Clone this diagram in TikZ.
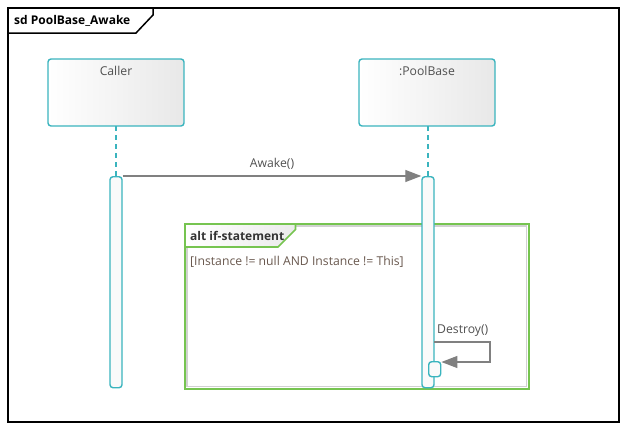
\documentclass[tikz,border=0pt]{standalone}
\usepackage{fontspec}
\setmainfont{Open Sans}
\usetikzlibrary{arrows.meta,shadings}
\definecolor{teal1}{RGB}{58,180,190}
\definecolor{altgreen}{RGB}{118,196,80}
\definecolor{msggray}{RGB}{128,128,128}
\definecolor{txtgray}{RGB}{80,80,80}
\definecolor{guardtxt}{RGB}{105,88,78}
\tikzset{
  lifebox/.style={draw=teal1, line width=1.4pt, rounded corners=3pt, left color=white, right color=black!9},
  actbar/.style={draw=teal1, line width=1.4pt, rounded corners=3pt, fill=black!2},
  lifeline/.style={draw=teal1, line width=1.4pt, dash pattern=on 5pt off 4pt},
  msg/.style={draw=msggray, line width=1.3pt, -{Triangle[length=16pt,width=12pt]}},
  lbl/.style={font=\fontsize{12.2pt}{14pt}\selectfont, text=txtgray, inner sep=0pt},
  bold/.style={font=\fontsize{12pt}{14pt}\selectfont\bfseries, inner sep=0pt},
}
\begin{document}
\begin{tikzpicture}[x=1pt,y=-1pt]
\useasboundingbox (0,0) rectangle (627,431);
% outer frame
\draw[line width=1.5pt] (8,8) rectangle (619,422);
\draw[line width=1.5pt] (8,33) -- (136,33) -- (153,15) -- (153,8);
\node[anchor=west, bold] (sdlbl) at (14,20.5) {sd PoolBase\_Awake};
% lifeline heads
\path[lifebox] (48,59) rectangle (184,126);
\node[lbl] (caller) at (116,71) {Caller};
\path[lifebox] (359,59) rectangle (495,126);
\node[lbl] (pool) at (427,71) {:PoolBase};
\coordinate (ch) at (116,126);
\coordinate (ph) at (428,126);
% lifelines
\coordinate (ca) at (116,176);
\coordinate (pa) at (428,176);
\draw[lifeline] (ch) -- (ca);
\draw[lifeline] (ph) -- (pa);
% alt frame
\draw[black!18, line width=1.6pt] (187,226) rectangle (526.5,386.5);
\draw[altgreen, line width=2pt] (185,224) rectangle (528.5,388.5);
\shade[left color=white, right color=black!8] (186,225) -- (295,225) -- (295,230) -- (278,246.5) -- (186,246.5) -- cycle;
\draw[altgreen, line width=1.6pt] (185,247) -- (278,247) -- (295.5,229.5) -- (295.5,224);
\node[anchor=west, bold, text=black!80] (altlbl) at (190,235.5) {alt if-statement};
\node[anchor=west, lbl, text=guardtxt] (guard) at (190,262) {[Instance != null AND Instance != This]};
% activation bars
\node[actbar, minimum width=12pt, minimum height=211pt, inner sep=0pt, anchor=north] (cbar) at (ca) {};
\node[actbar, minimum width=12pt, minimum height=211pt, inner sep=0pt, anchor=north] (pbar) at (pa) {};
% Awake message
\draw[msg] (cbar.north east) -- (pbar.north west) node[midway, above=6pt, lbl] (awake) {Awake()};
% self activation
\node[actbar, minimum width=12pt, minimum height=15pt, inner sep=0pt, anchor=north west] (sbar) at (428,361) {};
\coordinate (d1) at (434,342);
\coordinate (d2) at (490,342);
\coordinate (d3) at (490,362);
\draw[msg] (d1) -- (d2) -- (d3) -- (sbar.east |- d3);
\node[lbl, anchor=south west] (destroy) at (437,337) {Destroy()};
\end{tikzpicture}
\end{document}
